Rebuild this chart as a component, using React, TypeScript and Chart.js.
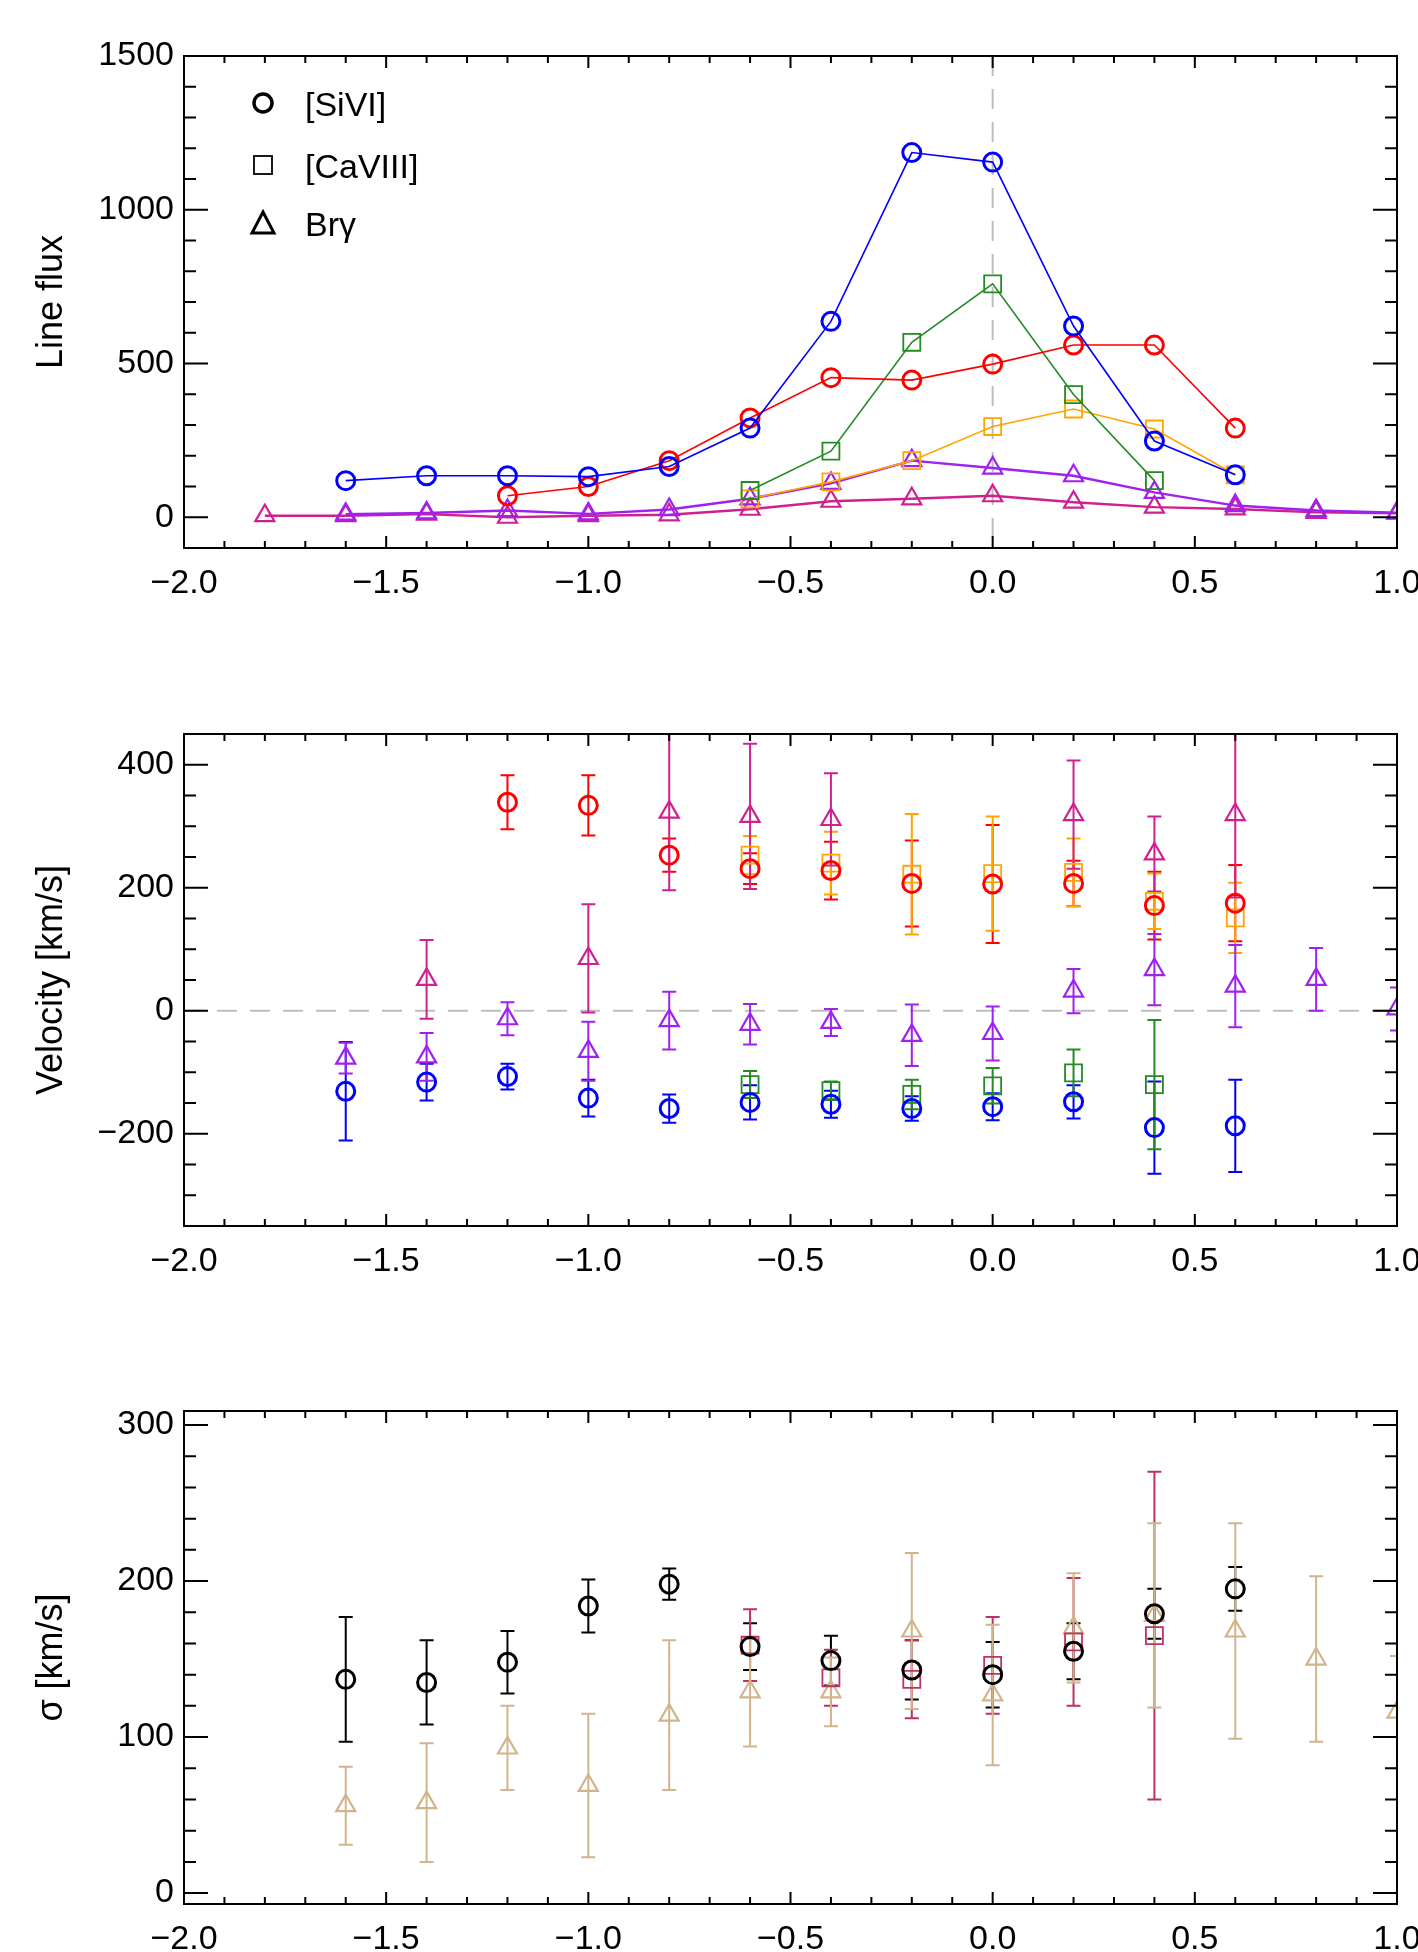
import React, { useEffect, useRef } from "react";
import { Chart, registerables } from "chart.js";

Chart.register(...registerables);

const FONT_FAMILY = "'Liberation Sans', Arial, Helvetica, sans-serif";

// ---------------- tick labels ----------------
const xTickValues = [-2.0, -1.5, -1.0, -0.5, 0.0, 0.5, 1.0];
const fluxTickValues = [0, 500, 1000, 1500];
const velTickValues = [-200, 0, 200, 400];
const sigmaTickValues = [0, 100, 200, 300];

// ---------------- legend ----------------
const legendLabels = ["[SiVI]", "[CaVIII]", "Br\u03B3"];

// ---------------- Panel 1 : line flux ----------------
const fluxSiVIBlueX = [-1.6, -1.4, -1.2, -1.0, -0.8, -0.6, -0.4, -0.2, 0.0, 0.2, 0.4, 0.6];
const fluxSiVIBlueY = [119, 135, 135, 132, 165, 290, 637, 1186, 1155, 622, 248, 138];
const fluxSiVIRedX = [-1.2, -1.0, -0.8, -0.6, -0.4, -0.2, 0.0, 0.2, 0.4, 0.6];
const fluxSiVIRedY = [70, 100, 184, 323, 454, 446, 498, 560, 560, 290];
const fluxCaVIIIBlueX = [-0.6, -0.4, -0.2, 0.0, 0.2, 0.4];
const fluxCaVIIIBlueY = [87, 215, 569, 759, 399, 119];
const fluxCaVIIIRedX = [-0.6, -0.4, -0.2, 0.0, 0.2, 0.4, 0.6];
const fluxCaVIIIRedY = [60, 115, 184, 295, 352, 287, 138];
const fluxBrgBlueX = [-1.6, -1.4, -1.2, -1.0, -0.8, -0.6, -0.4, -0.2, 0.0, 0.2, 0.4, 0.6, 0.8, 1.0];
const fluxBrgBlueY = [10, 14, 22, 11, 25, 60, 110, 184, 160, 135, 81, 38, 22, 15];
const fluxBrgRedX = [-1.8, -1.6, -1.4, -1.2, -1.0, -0.8, -0.6, -0.4, -0.2, 0.0, 0.2, 0.4, 0.6, 0.8, 1.0];
const fluxBrgRedY = [5, 5, 10, 0, 5, 8, 26, 52, 60, 70, 49, 33, 27, 16, 13];

// ---------------- Panel 2 : velocity ----------------
const velSiVIBlueX = [-1.6, -1.4, -1.2, -1.0, -0.8, -0.6, -0.4, -0.2, 0.0, 0.2, 0.4, 0.6];
const velSiVIBlueY = [-131, -116, -107, -142, -159, -149, -152, -159, -156, -148, -190, -187];
const velSiVIBlueErr = [80, 30, 21, 30, 23, 28, 22, 20, 22, 27, 75, 75];
const velSiVIRedX = [-1.2, -1.0, -0.8, -0.6, -0.4, -0.2, 0.0, 0.2, 0.4, 0.6];
const velSiVIRedY = [339, 334, 253, 231, 228, 207, 206, 207, 171, 175];
const velSiVIRedErr = [44, 49, 27, 25, 47, 70, 96, 37, 55, 62];
const velCaVIIIBlueX = [-0.6, -0.4, -0.2, 0.0, 0.2, 0.4];
const velCaVIIIBlueY = [-120, -130, -136, -122, -101, -120];
const velCaVIIIBlueErr = [22, 15, 24, 29, 38, 105];
const velCaVIIIRedX = [-0.6, -0.4, -0.2, 0.0, 0.2, 0.4, 0.6];
const velCaVIIIRedY = [253, 240, 222, 223, 225, 178, 151];
const velCaVIIIRedErr = [31, 51, 98, 93, 55, 45, 57];
const velBrgBlueX = [-1.6, -1.4, -1.2, -1.0, -0.8, -0.6, -0.4, -0.2, 0.0, 0.2, 0.4, 0.6, 0.8, 1.0];
const velBrgBlueY = [-77, -75, -13, -66, -16, -22, -19, -40, -37, 32, 67, 40, 51, 3];
const velBrgBlueErr = [25, 39, 27, 48, 47, 33, 22, 50, 44, 36, 58, 67, 51, 35];
const velBrgRedX = [-1.4, -1.0, -0.8, -0.6, -0.4, 0.2, 0.4, 0.6];
const velBrgRedY = [51, 85, 323, 316, 311, 319, 255, 319];
const velBrgRedErr = [64, 88, 127, 118, 75, 88, 61, 135];

// ---------------- Panel 3 : sigma ----------------
const sigSiVIX = [-1.6, -1.4, -1.2, -1.0, -0.8, -0.6, -0.4, -0.2, 0.0, 0.2, 0.4, 0.6];
const sigSiVIY = [137, 135, 148, 184, 198, 158, 149, 143, 140, 155, 179, 195];
const sigSiVIErr = [40, 27, 20, 17, 10, 15, 16, 19, 21, 18, 16, 14];
const sigCaVIIIX = [-0.6, -0.4, -0.2, 0.0, 0.2, 0.4];
const sigCaVIIIY = [159, 138, 137, 146, 161, 165];
const sigCaVIIIErr = [23, 18, 25, 31, 41, 105];
const sigBrgX = [-1.6, -1.4, -1.2, -1.0, -0.8, -0.6, -0.4, -0.2, 0.0, 0.2, 0.4, 0.6, 0.8, 1.0];
const sigBrgY = [56, 58, 93, 69, 114, 129, 129, 168, 127, 170, 178, 168, 150, 116];
const sigBrgErr = [25, 38, 27, 46, 48, 35, 22, 50, 45, 35, 59, 69, 53, 36];

// ---------------- colours ----------------
const BLUE = "#0000FF";
const RED = "#FF0000";
const GREEN = "#228B22";
const ORANGE = "#FFA500";
const PURPLE = "#A020F0";
const MAGENTA = "#D02090";
const BLACK = "#000000";
const CRIMSON = "#C03064";
const TAN = "#D2B48C";

type Shape = "circle" | "rect" | "triangle";
interface SeriesDef {
  x: number[];
  y: number[];
  err?: number[];
  color: string;
  shape: Shape;
  line?: boolean;
  lineWidth?: number;
}
interface PanelDef {
  top: number;
  height: number;
  padTop: number;
  xAxisHeight: number;
  yMin: number;
  yMax: number;
  yTicks: number[];
  yMinor: number;
  yTitle: string;
  zero: "x" | "y" | null;
  legend: boolean;
  series: SeriesDef[];
}

const panels: PanelDef[] = [
  {
    top: 0,
    height: 660,
    padTop: 56,
    xAxisHeight: 112,
    yMin: -100,
    yMax: 1500,
    yTicks: fluxTickValues,
    yMinor: 100,
    yTitle: "Line flux",
    zero: "x",
    legend: true,
    series: [
      { x: fluxSiVIBlueX, y: fluxSiVIBlueY, color: BLUE, shape: "circle", line: true, lineWidth: 1.6 },
      { x: fluxSiVIRedX, y: fluxSiVIRedY, color: RED, shape: "circle", line: true, lineWidth: 1.6 },
      { x: fluxCaVIIIBlueX, y: fluxCaVIIIBlueY, color: GREEN, shape: "rect", line: true, lineWidth: 1.6 },
      { x: fluxCaVIIIRedX, y: fluxCaVIIIRedY, color: ORANGE, shape: "rect", line: true, lineWidth: 1.6 },
      { x: fluxBrgBlueX, y: fluxBrgBlueY, color: PURPLE, shape: "triangle", line: true, lineWidth: 2.4 },
      { x: fluxBrgRedX, y: fluxBrgRedY, color: MAGENTA, shape: "triangle", line: true, lineWidth: 2.4 },
    ],
  },
  {
    top: 660,
    height: 670,
    padTop: 74,
    xAxisHeight: 104,
    yMin: -350,
    yMax: 450,
    yTicks: velTickValues,
    yMinor: 50,
    yTitle: "Velocity [km/s]",
    zero: "y",
    legend: false,
    series: [
      { x: velSiVIBlueX, y: velSiVIBlueY, err: velSiVIBlueErr, color: BLUE, shape: "circle" },
      { x: velSiVIRedX, y: velSiVIRedY, err: velSiVIRedErr, color: RED, shape: "circle" },
      { x: velCaVIIIBlueX, y: velCaVIIIBlueY, err: velCaVIIIBlueErr, color: GREEN, shape: "rect" },
      { x: velCaVIIIRedX, y: velCaVIIIRedY, err: velCaVIIIRedErr, color: ORANGE, shape: "rect" },
      { x: velBrgBlueX, y: velBrgBlueY, err: velBrgBlueErr, color: PURPLE, shape: "triangle" },
      { x: velBrgRedX, y: velBrgRedY, err: velBrgRedErr, color: MAGENTA, shape: "triangle" },
    ],
  },
  {
    top: 1330,
    height: 622,
    padTop: 81,
    xAxisHeight: 48,
    yMin: -7,
    yMax: 309,
    yTicks: sigmaTickValues,
    yMinor: 20,
    yTitle: "\u03C3 [km/s]",
    zero: null,
    legend: false,
    series: [
      { x: sigSiVIX, y: sigSiVIY, err: sigSiVIErr, color: BLACK, shape: "circle" },
      { x: sigCaVIIIX, y: sigCaVIIIY, err: sigCaVIIIErr, color: CRIMSON, shape: "rect" },
      { x: sigBrgX, y: sigBrgY, err: sigBrgErr, color: TAN, shape: "triangle" },
    ],
  },
];

const RADIUS: Record<Shape, number> = { circle: 9, rect: 12, triangle: 11 };
const BORDER: Record<Shape, number> = { circle: 3, rect: 1.8, triangle: 2.2 };

const fmtNum = (v: number, digits: number) => (v < 0 ? "\u2212" : "") + Math.abs(v).toFixed(digits);

function minorValues(min: number, max: number, step: number): number[] {
  const out: number[] = [];
  const k0 = Math.ceil(min / step - 1e-9);
  for (let k = k0; k * step <= max + 1e-9; k++) out.push(+(k * step).toFixed(6));
  return out;
}

function buildConfig(p: PanelDef): any {
  const datasets = p.series.map((s) => ({
    data: s.x.map((xv, i) => ({ x: xv, y: s.y[i] })),
    showLine: !!s.line,
    borderColor: s.color,
    borderWidth: s.lineWidth ?? 2,
    backgroundColor: "rgba(0,0,0,0)",
    pointStyle: s.shape,
    pointRadius: RADIUS[s.shape],
    pointHoverRadius: RADIUS[s.shape],
    pointBorderWidth: BORDER[s.shape],
    pointBorderColor: s.color,
    pointBackgroundColor: "rgba(0,0,0,0)",
    tension: 0,
    clip: 0,
    errorBars: s.err,
  }));

  const framePlugin = {
    id: "idlFrame",
    afterDraw(chart: any) {
      const { ctx, chartArea: a } = chart;
      const xs = chart.scales.x;
      const ys = chart.scales.y;
      ctx.save();
      ctx.strokeStyle = "#000";
      ctx.lineWidth = 2;
      ctx.beginPath();
      for (const v of minorValues(xs.min, xs.max, 0.1)) {
        const major = xTickValues.some((t) => Math.abs(t - v) < 1e-6);
        const len = major ? 12 : 7;
        const px = xs.getPixelForValue(v);
        ctx.moveTo(px, a.bottom);
        ctx.lineTo(px, a.bottom - len);
        ctx.moveTo(px, a.top);
        ctx.lineTo(px, a.top + len);
      }
      for (const v of minorValues(ys.min, ys.max, p.yMinor)) {
        if (Math.abs(v - ys.min) < 1e-6 || Math.abs(v - ys.max) < 1e-6) continue;
        const major = p.yTicks.some((t) => Math.abs(t - v) < 1e-6);
        const len = major ? 24 : 12;
        const py = ys.getPixelForValue(v);
        ctx.moveTo(a.left, py);
        ctx.lineTo(a.left + len, py);
        ctx.moveTo(a.right, py);
        ctx.lineTo(a.right - len, py);
      }
      ctx.stroke();
      ctx.strokeRect(a.left, a.top, a.right - a.left, a.bottom - a.top);
      ctx.restore();
    },
  };

  const zeroPlugin = {
    id: "zeroLine",
    beforeDatasetsDraw(chart: any) {
      if (!p.zero) return;
      const { ctx, chartArea: a } = chart;
      ctx.save();
      ctx.strokeStyle = "#BEBEBE";
      ctx.lineWidth = 2;
      ctx.setLineDash([20, 13]);
      ctx.beginPath();
      if (p.zero === "x") {
        const px = chart.scales.x.getPixelForValue(0);
        ctx.moveTo(px, a.top);
        ctx.lineTo(px, a.bottom);
      } else {
        const py = chart.scales.y.getPixelForValue(0);
        ctx.moveTo(a.left, py);
        ctx.lineTo(a.right, py);
      }
      ctx.stroke();
      ctx.restore();
    },
  };

  const errorPlugin = {
    id: "errorBars",
    beforeDatasetsDraw(chart: any) {
      const { ctx, chartArea: a } = chart;
      const xs = chart.scales.x;
      const ys = chart.scales.y;
      ctx.save();
      ctx.beginPath();
      ctx.rect(a.left, a.top, a.right - a.left, a.bottom - a.top);
      ctx.clip();
      chart.data.datasets.forEach((ds: any) => {
        const errs: number[] | undefined = ds.errorBars;
        if (!errs) return;
        ctx.strokeStyle = ds.borderColor;
        ctx.lineWidth = 2;
        ctx.beginPath();
        ds.data.forEach((pt: any, i: number) => {
          const e = errs[i];
          const px = xs.getPixelForValue(pt.x);
          const yHi = ys.getPixelForValue(pt.y + e);
          const yLo = ys.getPixelForValue(pt.y - e);
          ctx.moveTo(px, yHi);
          ctx.lineTo(px, yLo);
          ctx.moveTo(px - 7, yHi);
          ctx.lineTo(px + 7, yHi);
          ctx.moveTo(px - 7, yLo);
          ctx.lineTo(px + 7, yLo);
        });
        ctx.stroke();
      });
      ctx.restore();
    },
  };

  const legendPlugin = {
    id: "symLegend",
    afterDraw(chart: any) {
      if (!p.legend) return;
      const { ctx, chartArea: a } = chart;
      const sx = a.left + 79;
      const tx = a.left + 121;
      const rows = [a.top + 47, a.top + 109, a.top + 167];
      ctx.save();
      ctx.strokeStyle = "#000";
      ctx.fillStyle = "#000";
      ctx.lineWidth = 3.5;
      ctx.beginPath();
      ctx.arc(sx, rows[0], 9, 0, Math.PI * 2);
      ctx.stroke();
      ctx.lineWidth = 1.8;
      ctx.strokeRect(sx - 9, rows[1] - 9, 18, 18);
      ctx.lineWidth = 3;
      ctx.beginPath();
      ctx.moveTo(sx, rows[2] - 11);
      ctx.lineTo(sx + 11, rows[2] + 10);
      ctx.lineTo(sx - 11, rows[2] + 10);
      ctx.closePath();
      ctx.stroke();
      ctx.font = `34px ${FONT_FAMILY}`;
      ctx.textAlign = "left";
      ctx.textBaseline = "middle";
      legendLabels.forEach((t, i) => ctx.fillText(t, tx, rows[i] + 4));
      ctx.restore();
    },
  };

  return {
    type: "scatter",
    data: { datasets },
    options: {
      animation: false,
      responsive: false,
      maintainAspectRatio: false,
      devicePixelRatio: 1,
      events: [],
      layout: { padding: { top: p.padTop, right: 21, left: 0, bottom: 0 } },
      plugins: { legend: { display: false }, tooltip: { enabled: false }, title: { display: false } },
      scales: {
        x: {
          type: "linear",
          position: "bottom",
          min: -2,
          max: 1,
          afterBuildTicks: (s: any) => {
            s.ticks = xTickValues.map((v) => ({ value: v }));
          },
          afterFit: (s: any) => {
            s.height = p.xAxisHeight;
            s.paddingLeft = 0;
            s.paddingRight = 0;
          },
          grid: { display: false, drawTicks: false },
          border: { display: false },
          ticks: {
            autoSkip: false,
            maxRotation: 0,
            minRotation: 0,
            padding: 15,
            color: "#000",
            font: { family: FONT_FAMILY, size: 34 },
            callback: (v: any) => fmtNum(Number(v), 1),
          },
        },
        y: {
          type: "linear",
          position: "left",
          min: p.yMin,
          max: p.yMax,
          afterBuildTicks: (s: any) => {
            s.ticks = p.yTicks.map((v) => ({ value: v }));
          },
          afterFit: (s: any) => {
            s.width = 184;
            s.paddingTop = 0;
            s.paddingBottom = 0;
          },
          grid: { display: false, drawTicks: false },
          border: { display: false },
          title: {
            display: true,
            text: p.yTitle,
            color: "#000",
            font: { family: FONT_FAMILY, size: 36 },
            padding: { top: 30, bottom: 0 },
          },
          ticks: {
            autoSkip: false,
            padding: 10,
            color: "#000",
            font: { family: FONT_FAMILY, size: 34 },
            callback: (v: any) => fmtNum(Number(v), 0),
          },
        },
      },
    },
    plugins: [zeroPlugin, errorPlugin, framePlugin, legendPlugin],
  };
}

function Panel({ def }: { def: PanelDef }) {
  const ref = useRef<HTMLCanvasElement>(null);
  useEffect(() => {
    if (!ref.current) return;
    const chart = new Chart(ref.current, buildConfig(def));
    return () => chart.destroy();
  }, [def]);
  return (
    <canvas
      ref={ref}
      width={1418}
      height={def.height}
      style={{ position: "absolute", left: 0, top: def.top, width: 1418, height: def.height, display: "block" }}
    />
  );
}

export default function App() {
  return (
    <div style={{ position: "absolute", left: 0, top: 0, width: 1418, height: 1952, background: "#fff", overflow: "hidden" }}>
      {panels.map((p, i) => (
        <Panel key={i} def={p} />
      ))}
    </div>
  );
}
